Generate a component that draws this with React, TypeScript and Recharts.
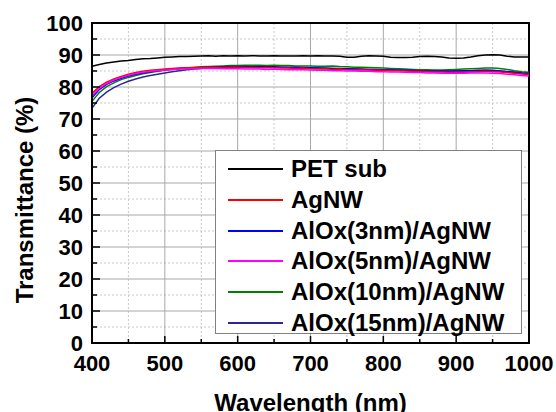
import { CartesianGrid, Legend, Line, LineChart, ReferenceArea, XAxis, YAxis } from "recharts";

const wavelengths = [
  400, 410, 420, 430, 440, 450, 460, 470, 480, 490,
  500, 510, 520, 530, 540, 550, 560, 570, 580, 590,
  600, 610, 620, 630, 640, 650, 660, 670, 680, 690,
  700, 710, 720, 730, 740, 750, 760, 770, 780, 790,
  800, 810, 820, 830, 840, 850, 860, 870, 880, 890,
  900, 910, 920, 930, 940, 950, 960, 970, 980, 990,
  1000,
];

const petSub = [
  86.5, 87.0, 87.5, 87.8, 88.1, 88.3, 88.6, 88.8, 88.9, 89.1,
  89.3, 89.4, 89.5, 89.5, 89.6, 89.7, 89.8, 89.6, 89.8, 89.7,
  89.8, 89.7, 89.8, 89.7, 89.7, 89.8, 89.7, 89.7, 89.7, 89.8,
  89.7, 89.8, 89.7, 89.7, 89.6, 89.3, 89.3, 89.6, 89.8, 89.7,
  89.6, 89.3, 89.2, 89.2, 89.3, 89.5, 89.6, 89.5, 89.4, 89.1,
  89.0, 89.1, 89.4, 89.8, 90.0, 90.1, 90.0, 89.6, 89.4, 89.4,
  89.4,
];

const agnw = [
  78.0, 80.1, 81.5, 82.5, 83.3, 84.0, 84.5, 84.9, 85.2, 85.4,
  85.6, 85.8, 85.9, 86.0, 86.1, 86.1, 86.2, 86.2, 86.1, 86.2,
  86.2, 86.1, 86.1, 86.0, 86.1, 86.0, 85.9, 85.9, 85.8, 85.9,
  85.7, 85.6, 85.7, 85.5, 85.6, 85.4, 85.3, 85.4, 85.3, 85.2,
  85.2, 85.1, 85.1, 85.0, 84.9, 84.9, 84.8, 84.7, 84.7, 84.6,
  84.6, 84.6, 84.7, 84.8, 84.9, 84.8, 84.7, 84.5, 84.3, 84.1,
  83.9,
];

const alox3 = [
  76.6, 79.2, 80.8, 81.9, 82.7, 83.4, 84.0, 84.4, 84.8, 85.1,
  85.4, 85.6, 85.8, 85.9, 86.0, 86.1, 86.2, 86.3, 86.3, 86.4,
  86.4, 86.4, 86.3, 86.4, 86.3, 86.3, 86.2, 86.2, 86.2, 86.1,
  86.0, 85.9, 85.9, 85.8, 85.8, 85.7, 85.6, 85.6, 85.5, 85.5,
  85.4, 85.3, 85.3, 85.2, 85.2, 85.1, 85.0, 85.0, 85.0, 85.0,
  85.0, 85.1, 85.1, 85.2, 85.2, 85.2, 85.0, 84.8, 84.6, 84.4,
  84.3,
];

const alox5 = [
  77.3, 79.6, 81.1, 82.2, 83.0, 83.7, 84.2, 84.6, 84.9, 85.1,
  85.3, 85.5, 85.6, 85.7, 85.7, 85.8, 85.8, 85.8, 85.7, 85.7,
  85.7, 85.6, 85.6, 85.6, 85.5, 85.6, 85.5, 85.4, 85.5, 85.4,
  85.3, 85.2, 85.2, 85.1, 85.1, 85.0, 85.0, 84.9, 84.9, 84.8,
  84.8, 84.7, 84.7, 84.6, 84.5, 84.5, 84.4, 84.4, 84.3, 84.3,
  84.3, 84.3, 84.4, 84.4, 84.4, 84.3, 84.2, 84.0, 83.8, 83.6,
  83.4,
];

const alox10 = [
  75.5, 78.3, 80.1, 81.3, 82.3, 83.0, 83.6, 84.1, 84.5, 84.9,
  85.2, 85.5, 85.7, 85.9, 86.1, 86.3, 86.4, 86.5, 86.6, 86.7,
  86.7, 86.8, 86.8, 86.8, 86.7, 86.8, 86.7, 86.7, 86.6, 86.6,
  86.6, 86.5, 86.5, 86.6, 86.4, 86.3, 86.2, 86.2, 86.1, 86.0,
  85.9, 85.8, 85.7, 85.6, 85.5, 85.4, 85.4, 85.3, 85.3, 85.4,
  85.5, 85.6, 85.7, 85.8, 85.9, 85.9, 85.8, 85.5, 85.1, 84.8,
  84.6,
];

const alox15 = [
  73.4, 76.5, 78.4, 79.8, 80.9, 81.8, 82.5, 83.1, 83.6, 84.0,
  84.4, 84.8, 85.1, 85.4, 85.6, 85.8, 86.0, 86.1, 86.2, 86.3,
  86.3, 86.4, 86.3, 86.3, 86.3, 86.2, 86.2, 86.1, 86.1, 86.0,
  86.0, 85.9, 85.8, 85.8, 85.7, 85.6, 85.6, 85.5, 85.5, 85.4,
  85.3, 85.3, 85.2, 85.2, 85.1, 85.0, 85.0, 84.9, 84.9, 84.9,
  85.0, 85.0, 85.1, 85.1, 85.2, 85.1, 85.0, 84.8, 84.6, 84.4,
  84.3,
];

const seriesNames = [
  "PET sub",
  "AgNW",
  "AlOx(3nm)/AgNW",
  "AlOx(5nm)/AgNW",
  "AlOx(10nm)/AgNW",
  "AlOx(15nm)/AgNW",
];
const seriesColors = ["#000000", "#ff0000", "#0000ff", "#ff00ff", "#008000", "#282890"];

const xTicks = [400, 450, 500, 550, 600, 650, 700, 750, 800, 850, 900, 950, 1000];
const yTicks = [0, 5, 10, 15, 20, 25, 30, 35, 40, 45, 50, 55, 60, 65, 70, 75, 80, 85, 90, 95, 100];
const xMajor = [500, 600, 700, 800, 900];
const xMinor = [450, 550, 650, 750, 850, 950];
const yMajor = [10, 20, 30, 40, 50, 60, 70, 80, 90];
const yMinor = [5, 15, 25, 35, 45, 55, 65, 75, 85, 95];

const data = wavelengths.map((w, i) => ({
  w,
  s0: petSub[i],
  s1: agnw[i],
  s2: alox3[i],
  s3: alox5[i],
  s4: alox10[i],
  s5: alox15[i],
}));

// draw order: back to front
const drawOrder = [0, 5, 4, 2, 1, 3];

const FONT = "'Liberation Sans', Arial, sans-serif";

function XTick({ x, y, payload }: any) {
  const major = payload.value % 100 === 0;
  return (
    <g>
      <line x1={x} y1={y} x2={x} y2={y - (major ? 7 : 4)} stroke="#000" strokeWidth={1.5} />
      {major && (
        <text x={x} y={y + 28} textAnchor="middle" fontFamily={FONT} fontWeight="bold" fontSize={22} fill="#000">
          {payload.value}
        </text>
      )}
    </g>
  );
}

function YTick({ x, y, payload }: any) {
  const major = payload.value % 10 === 0;
  return (
    <g>
      <line x1={x} y1={y} x2={x + (major ? 8 : 5)} y2={y} stroke="#000" strokeWidth={1.5} />
      {major && (
        <text x={x - 9} y={y + 7.5} textAnchor="end" fontFamily={FONT} fontWeight="bold" fontSize={22} fill="#000">
          {payload.value}
        </text>
      )}
    </g>
  );
}

function LegendBox({ payload }: any) {
  const items = [...(payload || [])].sort(
    (a: any, b: any) => seriesNames.indexOf(a.value) - seriesNames.indexOf(b.value),
  );
  return (
    <div
      style={{
        width: 307,
        height: 184,
        boxSizing: "border-box",
        border: "1.5px solid #808080",
        background: "#fff",
        paddingTop: 3,
      }}
    >
      {items.map((it: any) => (
        <div key={it.value} style={{ display: "flex", alignItems: "center", height: 30.7 }}>
          <div style={{ width: 55, height: 2, background: it.color, marginLeft: 12, marginRight: 8 }} />
          <span style={{ fontFamily: FONT, fontWeight: "bold", fontSize: 24, color: "#000", lineHeight: 1 }}>
            {it.value}
          </span>
        </div>
      ))}
    </div>
  );
}

function YTitle({ viewBox }: any) {
  const cx = viewBox.x + 33;
  const cy = viewBox.y + viewBox.height / 2 + 17;
  return (
    <text
      x={cx}
      y={cy}
      transform={`rotate(-90 ${cx} ${cy})`}
      textAnchor="middle"
      fontFamily={FONT}
      fontWeight="bold"
      fontSize={24}
      fill="#000"
    >
      Transmittance (%)
    </text>
  );
}

function XTitle({ viewBox }: any) {
  const cx = viewBox.x + viewBox.width / 2;
  return (
    <text x={cx} y={viewBox.y + 68} textAnchor="middle" fontFamily={FONT} fontWeight="bold" fontSize={24} fill="#000">
      Wavelength (nm)
    </text>
  );
}

export default function App() {
  return (
    <div style={{ position: "absolute", left: 0, top: 0, width: 556, height: 412, background: "#fff" }}>
      <LineChart width={556} height={412} data={data} margin={{ top: 23, right: 27, bottom: 0, left: 0 }}>
        <CartesianGrid
          horizontalValues={yMinor}
          verticalValues={xMinor}
          stroke="#c8c8c8"
          strokeDasharray="2 2"
          strokeWidth={1}
        />
        <CartesianGrid horizontalValues={yMajor} verticalValues={xMajor} stroke="#a8a8a8" strokeWidth={1} />
        <XAxis
          dataKey="w"
          type="number"
          domain={[400, 1000]}
          ticks={xTicks}
          interval={0}
          height={69}
          tickSize={0}
          tickMargin={0}
          tickLine={false}
          axisLine={{ stroke: "#000", strokeWidth: 2 }}
          tick={<XTick />}
          label={<XTitle />}
        />
        <YAxis
          type="number"
          domain={[0, 100]}
          ticks={yTicks}
          interval={0}
          width={92}
          tickSize={0}
          tickMargin={0}
          tickLine={false}
          axisLine={{ stroke: "#000", strokeWidth: 2 }}
          tick={<YTick />}
          label={<YTitle />}
        />
        {drawOrder.map((k) => (
          <Line
            key={k}
            type="linear"
            dataKey={`s${k}`}
            name={seriesNames[k]}
            stroke={seriesColors[k]}
            strokeWidth={1.5}
            dot={false}
            activeDot={false}
            isAnimationActive={false}
          />
        ))}
        <ReferenceArea x1={400} x2={1000} y1={0} y2={100} fill="none" stroke="#000" strokeWidth={2} />
        <Legend
          layout="horizontal"
          verticalAlign="middle"
          align="center"
          content={<LegendBox />}
          wrapperStyle={{ position: "absolute", left: 215, top: 150, width: 307, height: 184 }}
        />
      </LineChart>
    </div>
  );
}
